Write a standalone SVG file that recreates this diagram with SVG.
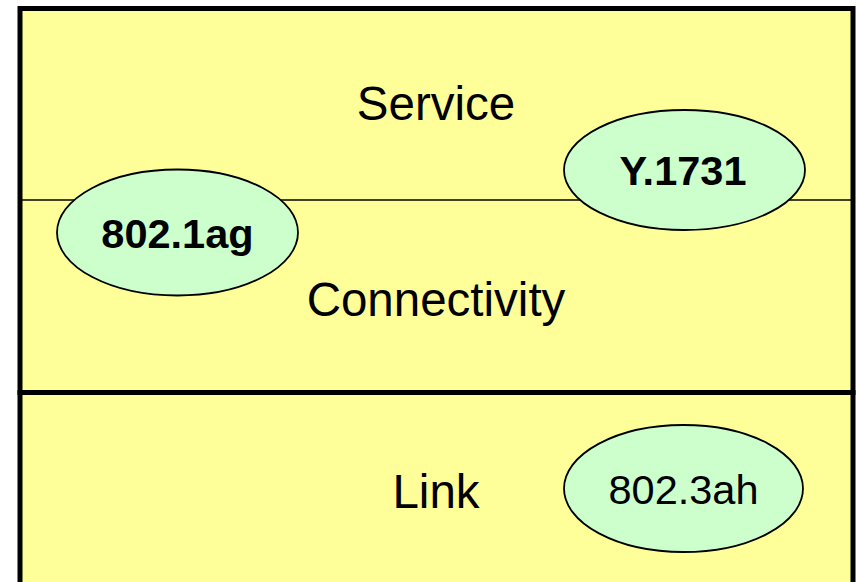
<svg xmlns="http://www.w3.org/2000/svg" width="857" height="582" viewBox="0 0 857 582">
<style>
.box{fill:#FFFF99;stroke:#000;stroke-width:5}
.ell{fill:#CCFFCC;stroke:#000;stroke-width:1.8}
.lbl{font-family:"Liberation Sans",Arial,sans-serif;font-size:47.5px;fill:#000;text-anchor:middle}
.nl{font-family:"Liberation Sans",Arial,sans-serif;font-size:41.5px;fill:#000;text-anchor:middle}
.b{font-weight:bold}
</style>
<rect width="857" height="582" fill="#fff"/>
<g id="upper">
<rect class="box" x="20" y="8.5" width="833" height="384"/>
<text class="lbl" x="436" y="120">Service</text>
<text class="lbl" x="436" y="316">Connectivity</text>
</g>
<g id="lower">
<rect class="box" x="20" y="392.5" width="833" height="200"/>
<text class="lbl" x="436" y="508">Link</text>
</g>
<g id="connectors">
<line x1="22" y1="200" x2="851" y2="200" stroke="#000" stroke-width="1.6"/>
</g>
<g id="n8021ag">
<ellipse class="ell" cx="177.5" cy="232.5" rx="120.5" ry="63"/>
<text class="nl b" x="177.5" y="248">802.1ag</text>
</g>
<g id="y1731">
<ellipse class="ell" cx="684.5" cy="170" rx="120.5" ry="60"/>
<text class="nl b" x="683" y="185">Y.1731</text>
</g>
<g id="n8023ah">
<ellipse class="ell" cx="683.5" cy="488.5" rx="119.5" ry="63.5"/>
<text class="nl" x="683.5" y="504">802.3ah</text>
</g>
</svg>
